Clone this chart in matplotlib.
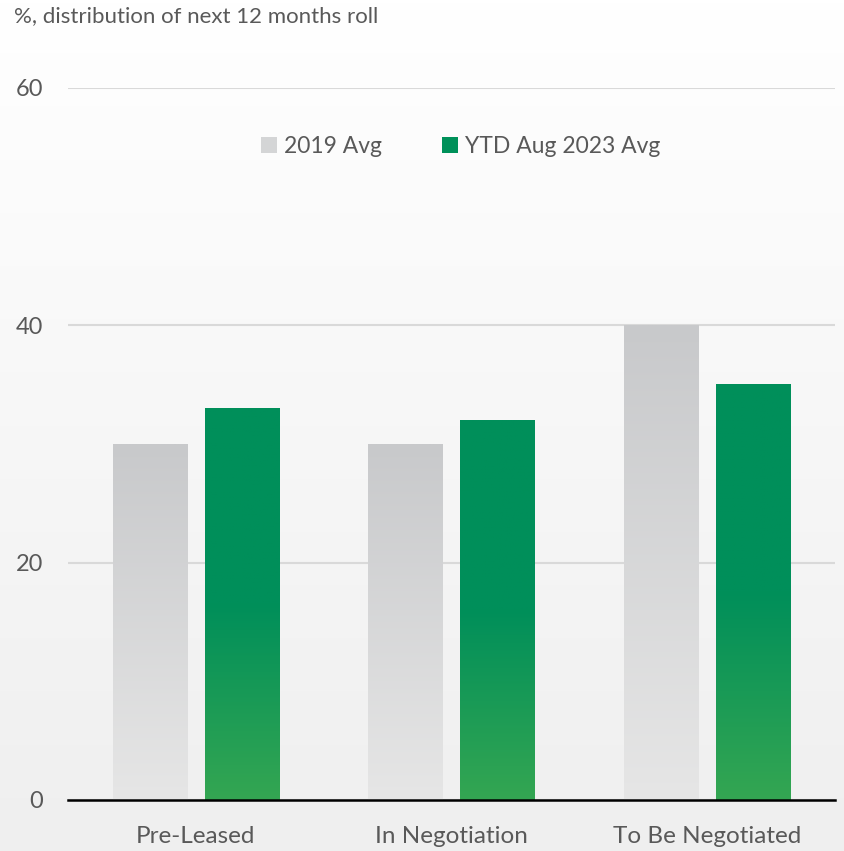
import matplotlib
matplotlib.use("Agg")
import matplotlib.pyplot as plt
import numpy as np
from matplotlib.colors import LinearSegmentedColormap
from matplotlib.patches import Patch

categories = ["Pre-Leased", "In Negotiation", "To Be Negotiated"]
avg_2019 = [30, 30, 40]
avg_ytd_2023 = [33, 32, 35]
series_names = ["2019 Avg", "YTD Aug 2023 Avg"]
yticks = [0, 20, 40, 60]

plt.rcParams['font.family'] = ['Lato', 'DejaVu Sans']
text_col = "#595959"

gray_cmap = LinearSegmentedColormap.from_list("g", [(0, "#e6e6e6"), (1, "#c8c9cb")])
green_cmap = LinearSegmentedColormap.from_list("gr", [(0, "#34a652"), (0.5, "#008f5a"), (1, "#008f5a")])

fig = plt.figure(figsize=(8.44, 8.51), dpi=100)

# background gradient
bg = fig.add_axes([0, 0, 1, 1], zorder=-5)
bg_cmap = LinearSegmentedColormap.from_list("bg", [(0, "#efefef"), (1, "#ffffff")])
bg.imshow(np.linspace(0, 1, 256).reshape(-1, 1), cmap=bg_cmap, aspect="auto",
          extent=[0, 1, 0, 1], origin="lower")
bg.axis("off")

ax = fig.add_axes([68 / 844, 51 / 851, 767 / 844, 712 / 851])
ax.patch.set_alpha(0)

x = np.arange(len(categories))
w = 0.29
off = 0.18
grad = np.linspace(0, 1, 256).reshape(-1, 1)
for i in range(len(categories)):
    for val, dx, cm in [(avg_2019[i], -off, gray_cmap), (avg_ytd_2023[i], off, green_cmap)]:
        ax.imshow(grad, cmap=cm, aspect="auto", origin="lower",
                  extent=[x[i] + dx - w / 2, x[i] + dx + w / 2, 0, val], zorder=2)

ax.set_xlim(-0.5, 2.5)
ax.set_ylim(0, 60)
ax.set_yticks(yticks)
ax.set_xticks(x)
ax.set_xticklabels(categories)
ax.tick_params(axis="y", length=0, labelsize=17, colors=text_col, pad=18)
ax.tick_params(axis="x", length=0, labelsize=17.5, colors=text_col, pad=19)
ax.grid(axis="y", color="#d9d9d9", linewidth=1.5, zorder=0)
ax.set_axisbelow(True)
for s in ["top", "right", "left"]:
    ax.spines[s].set_visible(False)
ax.spines["bottom"].set_color("black")
ax.spines["bottom"].set_linewidth(1.8)
ax.spines["bottom"].set_zorder(3)

handles = [Patch(facecolor="#d4d5d6"), Patch(facecolor="#00915a")]
leg = ax.legend(handles, series_names, loc="center", bbox_to_anchor=(0.512, 55.1 / 60),
                ncol=2, frameon=False, fontsize=16.5, handlelength=0.7, handleheight=0.7,
                handletextpad=0.3, columnspacing=2.6, labelcolor=text_col)

fig.text(14 / 844, 1 - 16 / 851, "%, distribution of next 12 months roll",
         fontsize=16, color=text_col, ha="left", va="center")

fig.savefig("out.png", dpi=100)
